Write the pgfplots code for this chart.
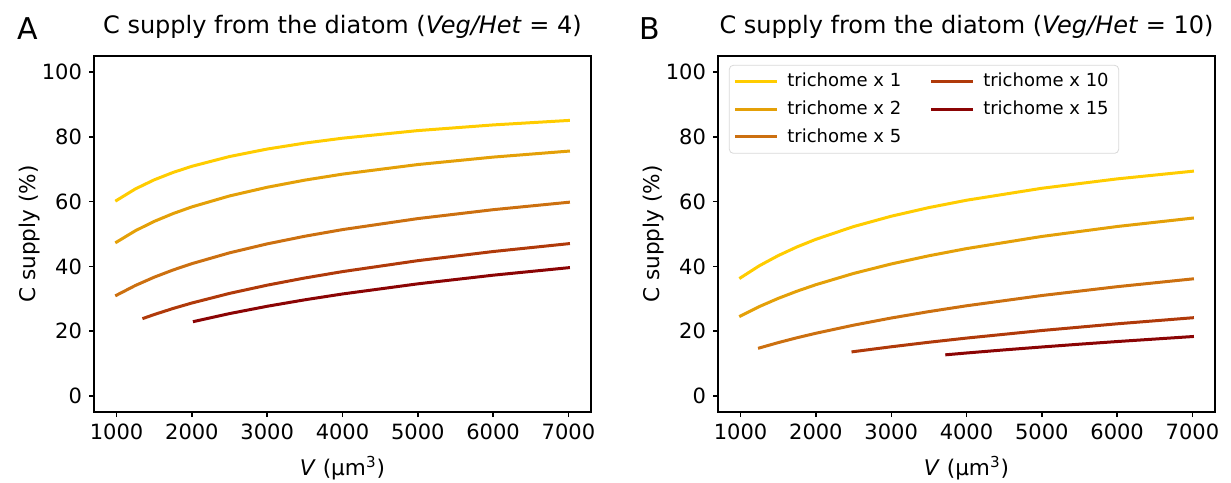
\documentclass[border=0pt]{standalone}
\usepackage{pgfplots}
\pgfplotsset{compat=1.18}
\usepackage{fontspec}
\setmainfont{DejaVu Sans}[ItalicFont={DejaVu Sans Oblique}]

\definecolor{tA}{RGB}{255,204,0}
\definecolor{tB}{RGB}{228,160,8}
\definecolor{tC}{RGB}{204,112,16}
\definecolor{tD}{RGB}{176,58,10}
\definecolor{tE}{RGB}{139,4,4}

\pgfplotsset{panel/.style={
  scale only axis, width=248.5pt, height=178pt,
  xmin=700, xmax=7300, ymin=-5, ymax=105,
  xtick={1000,2000,...,7000}, ytick={0,20,...,100},
  xticklabels={1000,2000,3000,4000,5000,6000,7000},
  yticklabels={0,20,40,60,80,100},
  tick align=outside, xtick pos=bottom, ytick pos=left,
  major tick length=2.5pt,
  axis line style={line width=0.7pt},
  every tick/.style={black, line width=0.7pt},
  xticklabel style={font=\fontsize{10.5}{12}\selectfont},
  yticklabel style={font=\fontsize{10.5}{12}\selectfont},
  label style={font=\fontsize{10.8}{13}\selectfont},
  xlabel={\textit{V} (µm\textsuperscript{3})},
  ylabel={C supply (\%)},
  xlabel style={at={(axis description cs:0.5,-0.157)}, anchor=center},
  ylabel style={at={(axis description cs:-0.129,0.5)}, anchor=center},
  title style={font=\fontsize{12}{14}\selectfont, at={(axis description cs:0.5,1)}, anchor=south, yshift=-1pt},
  every axis plot/.append style={line width=1.5pt, line cap=rect},
}}

\begin{document}
\begin{tikzpicture}
\useasboundingbox (0,0) rectangle (615.5pt,241pt);
\node[anchor=base west, font=\fontsize{15}{18}\selectfont] at (5pt,221pt) {A};
\node[anchor=base west, font=\fontsize{15}{18}\selectfont] at (316pt,221pt) {B};

\begin{axis}[panel, at={(47pt,35pt)}, anchor=south west,
  title={C supply from the diatom (\textit{Veg/Het} = 4)}]
\addplot[tA] coordinates {(1000,60.38) (1250,63.94) (1500,66.74) (1750,69.02) (2000,70.92) (2500,73.94) (3000,76.25) (3500,78.09) (4000,79.60) (5000,81.95) (6000,83.70) (7000,85.08)};
\addplot[tB] coordinates {(1000,47.50) (1250,51.02) (1500,53.90) (1750,56.31) (2000,58.38) (2500,61.76) (3000,64.44) (3500,66.65) (4000,68.50) (5000,71.46) (6000,73.76) (7000,75.60)};
\addplot[tC] coordinates {(1000,31.10) (1250,34.10) (1500,36.66) (1750,38.88) (2000,40.84) (2500,44.18) (3000,46.95) (3500,49.31) (4000,51.36) (5000,54.76) (6000,57.51) (7000,59.80)};
\addplot[tD] coordinates {(1362,23.99) (1500,25.12) (1750,26.99) (2000,28.68) (2500,31.65) (3000,34.19) (3500,36.41) (4000,38.38) (5000,41.76) (6000,44.58) (7000,47.00)};
\addplot[tE] coordinates {(2033,23.00) (2500,25.41) (3000,27.67) (3500,29.67) (4000,31.47) (5000,34.60) (6000,37.27) (7000,39.58)};
\end{axis}

\begin{axis}[panel, at={(359pt,35pt)}, anchor=south west,
  title={C supply from the diatom (\textit{Veg/Het} = 10)},
  legend columns=2, legend cell align=left,
  legend image code/.code={\draw[#1] (0pt,0pt) -- (19.5pt,0pt);},
  legend style={at={(0.022,0.975)}, anchor=north west, draw=black!15, rounded corners=2pt,
    font=\fontsize{9}{11}\selectfont, row sep=1.5pt,
    /tikz/every odd column/.style={column sep=3pt},
    /tikz/column 2/.style={column sep=13pt}}]
\addplot[tA] coordinates {(1000,36.48) (1250,40.20) (1500,43.33) (1750,46.02) (2000,48.36) (2500,52.29) (3000,55.49) (3500,58.16) (4000,60.43) (5000,64.13) (6000,67.03) (7000,69.39)};
\addlegendentry{trichome x 1}
\addplot[tD] coordinates {(2493,13.63) (3000,15.15) (3500,16.55) (4000,17.84) (5000,20.18) (6000,22.25) (7000,24.11)};
\addlegendentry{trichome x 10}
\addplot[tB] coordinates {(1000,24.69) (1250,27.59) (1500,30.11) (1750,32.34) (2000,34.34) (2500,37.81) (3000,40.74) (3500,43.27) (4000,45.49) (5000,49.24) (6000,52.31) (7000,54.90)};
\addlegendentry{trichome x 2}
\addplot[tE] coordinates {(3738,12.70) (4000,13.23) (4500,14.19) (5000,15.09) (5500,15.95) (6000,16.77) (7000,18.31)};
\addlegendentry{trichome x 15}
\addplot[tC] coordinates {(1251,14.80) (1500,16.44) (1750,17.95) (2000,19.33) (2500,21.83) (3000,24.04) (3500,26.02) (4000,27.82) (5000,30.99) (6000,33.72) (7000,36.12)};
\addlegendentry{trichome x 5}
\end{axis}
\end{tikzpicture}
\end{document}
